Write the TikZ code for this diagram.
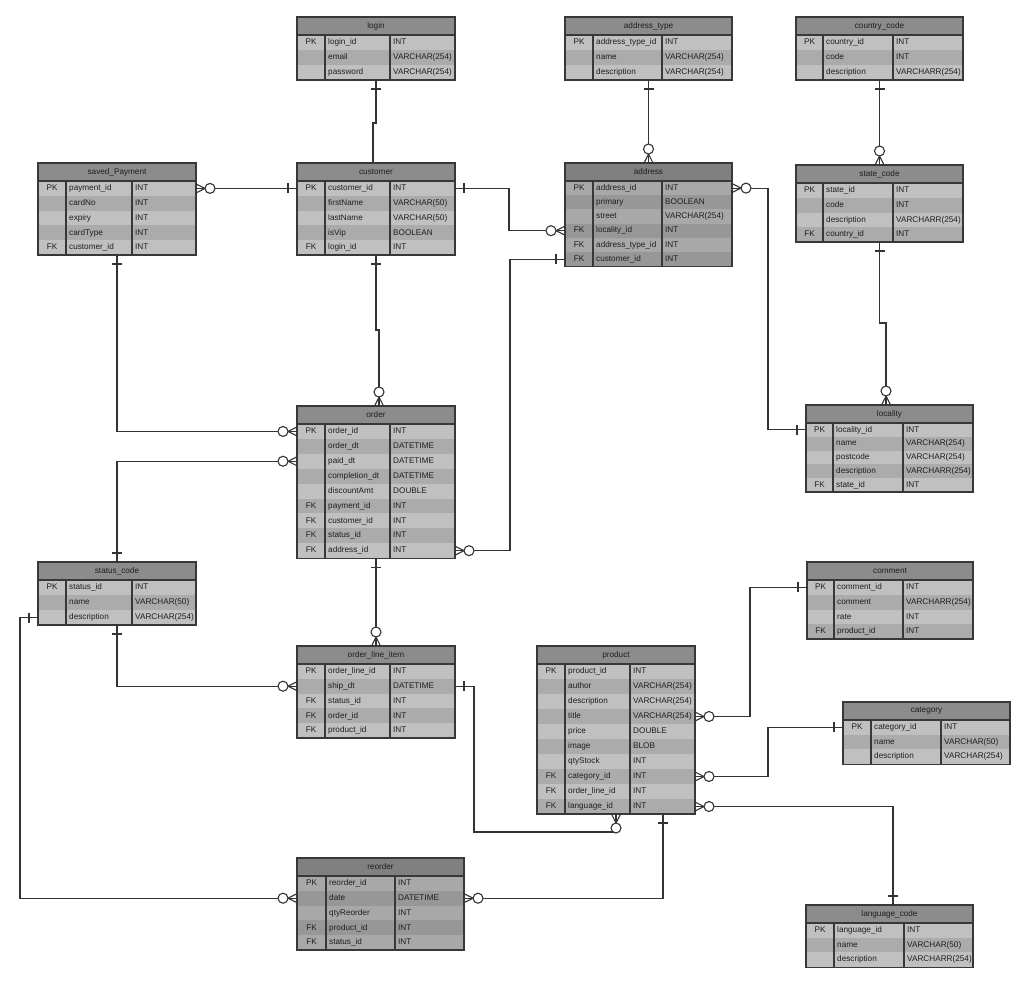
\documentclass[tikz,border=0pt]{standalone}
\usepackage{fontspec}
\setmainfont{Liberation Sans}
\usetikzlibrary{calc}
\definecolor{hdrN}{HTML}{8C8C8C}
\definecolor{rowAN}{HTML}{C0C0C0}
\definecolor{rowBN}{HTML}{ABABAB}
\definecolor{hdrD}{HTML}{808080}
\definecolor{rowAD}{HTML}{A8A8A8}
\definecolor{rowBD}{HTML}{979797}
\definecolor{bordC}{HTML}{383838}
\definecolor{lineC}{HTML}{333333}
\definecolor{txtC}{HTML}{1E1E1E}
\colorlet{hdr}{hdrN}\colorlet{rowA}{rowAN}\colorlet{rowB}{rowBN}
\tikzset{
  conn/.style={draw=lineC, line width=1.1pt},
  markline/.style={draw=lineC, line width=1.1pt},
  tblborder/.style={draw=bordC, line width=1.2pt},
  cell/.style={inner sep=0pt, text height=6.2pt, text depth=1.8pt, font=\fontsize{8.2}{9}\selectfont, text=txtC},
  hdrbox/.style={fill=hdr, draw=none, inner sep=0pt, outer sep=0pt, rectangle, font=\fontsize{8.2}{9}\selectfont, text=txtC},
  rowbox/.style={draw=none, inner sep=0pt, outer sep=0pt, rectangle},
  pics/one/.style={code={\draw[markline] (9,-5)--(9,5);}},
  pics/zmany/.style={code={\draw[markline] (0,-4.5)--(9,0)--(0,4.5); \draw[markline, fill=white] (14,0) circle[radius=5];}}
}
\newcommand\ertable[9]{%
  \node[hdrbox, minimum width=#5pt, minimum height=18pt, anchor=north west] (#1) at (#3,#4) {#2};
  \foreach[count=\i] \ky/\nm/\ty in {#9}{%
    \pgfmathsetmacro\yy{#4+18+(\i-1)*#8}%
    \ifodd\i\relax\def\rc{rowA}\else\def\rc{rowB}\fi
    \node[rowbox, fill=\rc, minimum width=#5pt, minimum height=#8pt, anchor=north west] (#1-\i) at (#3,\yy) {};
    \node[cell] at ($(#1-\i.west)+(#6/2,0)$) {\ky};
    \node[cell, anchor=west] at ($(#1-\i.west)+(#6+3,0)$) {\nm};
    \node[cell, anchor=west] at ($(#1-\i.west)+(#6+#7+3,0)$) {\ty};
    \xdef\lastrow{\i}%
  }
  \draw[tblborder] (#1.north west) rectangle (#1-\lastrow.south east);
  \draw[tblborder] (#1.south west) -- (#1.south east);
  \draw[tblborder] ($(#1.south west)+(#6,0)$) -- ($(#1-\lastrow.south west)+(#6,0)$);
  \draw[tblborder] ($(#1.south west)+(#6+#7,0)$) -- ($(#1-\lastrow.south west)+(#6+#7,0)$);
}
\begin{document}
\begin{tikzpicture}[x=1pt,y=-1pt]
\fill[white] (0,0) rectangle (1024,988);
\useasboundingbox (0,0) rectangle (1024,988);

% ---------- tables ----------
\ertable{login}{login}{297}{17}{158}{28}{65}{15}{PK/login\_id/INT, {}/email/VARCHAR(254), {}/password/VARCHAR(254)}
\ertable{addrtype}{address\_type}{565}{17}{167}{28}{69}{15}{PK/address\_type\_id/INT, {}/name/VARCHAR(254), {}/description/VARCHAR(254)}
\ertable{country}{country\_code}{796}{17}{167}{27}{70}{15}{PK/country\_id/INT, {}/code/INT, {}/description/VARCHARR(254)}
\ertable{savedpay}{saved\_Payment}{38}{163}{158}{28}{66}{14.8}{PK/payment\_id/INT, {}/cardNo/INT, {}/expiry/INT, {}/cardType/INT, FK/customer\_id/INT}
\ertable{customer}{customer}{297}{163}{158}{28}{65}{14.8}{PK/customer\_id/INT, {}/firstName/VARCHAR(50), {}/lastName/VARCHAR(50), {}/isVip/BOOLEAN, FK/login\_id/INT}
\colorlet{hdr}{hdrD}\colorlet{rowA}{rowAD}\colorlet{rowB}{rowBD}
\ertable{address}{address}{565}{163}{167}{28}{69}{14.2}{PK/address\_id/INT, {}/primary/BOOLEAN, {}/street/VARCHAR(254), FK/locality\_id/INT, FK/address\_type\_id/INT, FK/customer\_id/INT}
\colorlet{hdr}{hdrN}\colorlet{rowA}{rowAN}\colorlet{rowB}{rowBN}
\ertable{state}{state\_code}{796}{165}{167}{27}{70}{14.75}{PK/state\_id/INT, {}/code/INT, {}/description/VARCHARR(254), FK/country\_id/INT}
\ertable{locality}{locality}{806}{405}{167}{27}{70}{13.8}{PK/locality\_id/INT, {}/name/VARCHAR(254), {}/postcode/VARCHAR(254), {}/description/VARCHARR(254), FK/state\_id/INT}
\ertable{order}{order}{297}{406}{158}{28}{65}{14.9}{PK/order\_id/INT, {}/order\_dt/DATETIME, {}/paid\_dt/DATETIME, {}/completion\_dt/DATETIME, {}/discountAmt/DOUBLE, FK/payment\_id/INT, FK/customer\_id/INT, FK/status\_id/INT, FK/address\_id/INT}
\ertable{status}{status\_code}{38}{562}{158}{28}{66}{15}{PK/status\_id/INT, {}/name/VARCHAR(50), {}/description/VARCHAR(254)}
\ertable{orderline}{order\_line\_item}{297}{646}{158}{28}{65}{14.8}{PK/order\_line\_id/INT, {}/ship\_dt/DATETIME, FK/status\_id/INT, FK/order\_id/INT, FK/product\_id/INT}
\ertable{product}{product}{537}{646}{158}{28}{65}{15}{PK/product\_id/INT, {}/author/VARCHAR(254), {}/description/VARCHAR(254), {}/title/VARCHAR(254), {}/price/DOUBLE, {}/image/BLOB, {}/qtyStock/INT, FK/category\_id/INT, FK/order\_line\_id/INT, FK/language\_id/INT}
\ertable{comment}{comment}{807}{562}{166}{27}{69}{14.75}{PK/comment\_id/INT, {}/comment/VARCHARR(254), {}/rate/INT, FK/product\_id/INT}
\ertable{category}{category}{843}{702}{167}{28}{70}{14.7}{PK/category\_id/INT, {}/name/VARCHAR(50), {}/description/VARCHAR(254)}
\colorlet{hdr}{hdrD}\colorlet{rowA}{rowAD}\colorlet{rowB}{rowBD}
\ertable{reorder}{reorder}{297}{858}{167}{29}{69}{14.8}{PK/reorder\_id/INT, {}/date/DATETIME, {}/qtyReorder/INT, FK/product\_id/INT, FK/status\_id/INT}
\colorlet{hdr}{hdrN}\colorlet{rowA}{rowAN}\colorlet{rowB}{rowBN}
\ertable{language}{language\_code}{806}{905}{167}{28}{70}{14.7}{PK/language\_id/INT, {}/name/VARCHAR(50), {}/description/VARCHARR(254)}

% ---------- connectors ----------
\draw[conn] (login-3.south) -- ++(0,43) -| ([xshift=-3pt]customer.north);
\draw[conn] (savedpay-1.east) -- (customer-1.west);
\draw[conn] (customer-1.east) -- ++(54,0) |- (address-4.west);
\draw[conn] (addrtype-3.south) -- (address.north);
\draw[conn] (country-3.south) -- (state.north);
\draw[conn] (state-4.south) -- ++(0,81) -| ([xshift=-3.5pt]locality.north);
\draw[conn] (address-1.east) -- ++(36,0) |- (locality-1.west);
\draw[conn] (customer-5.south) -- ++(0,75) -| ([xshift=3pt]order.north);
\draw[conn] (savedpay-5.south) |- (order-1.west);
\draw[conn] (status.north) |- (order-3.west);
\draw[conn] (order-9.east) -- ++(55,0) |- (address-6.west);
\draw[conn] (order-9.south) -- (orderline.north);
\draw[conn] (status-3.south) |- (orderline-2.west);
\draw[conn] (status-3.west) -- ++(-18,0) |- (reorder-2.west);
\draw[conn] (orderline-2.east) -- ++(19,0) |- ([yshift=-18pt]product-10.south) -- (product-10.south);
\draw[conn] ([xshift=47pt]product-10.south) |- (reorder-2.east);
\draw[conn] (product-4.east) -- ++(55,0) |- (comment-1.west);
\draw[conn] (product-8.east) -- ++(73,0) |- (category-1.west);
\draw[conn] (product-10.east) -| ([xshift=3.5pt]language.north);

% ---------- cardinality marks ----------
\pic[rotate=-90] at (login-3.south) {one};
\pic at (savedpay-1.east) {zmany};
\pic[rotate=180] at (customer-1.west) {one};
\pic at (customer-1.east) {one};
\pic[rotate=180] at (address-4.west) {zmany};
\pic[rotate=-90] at (addrtype-3.south) {one};
\pic[rotate=90] at (address.north) {zmany};
\pic[rotate=-90] at (country-3.south) {one};
\pic[rotate=90] at (state.north) {zmany};
\pic[rotate=-90] at (state-4.south) {one};
\pic[rotate=90] at ([xshift=-3.5pt]locality.north) {zmany};
\pic at (address-1.east) {zmany};
\pic[rotate=180] at (locality-1.west) {one};
\pic[rotate=-90] at (customer-5.south) {one};
\pic[rotate=90] at ([xshift=3pt]order.north) {zmany};
\pic[rotate=-90] at (savedpay-5.south) {one};
\pic[rotate=180] at (order-1.west) {zmany};
\pic[rotate=90] at (status.north) {one};
\pic[rotate=180] at (order-3.west) {zmany};
\pic at (order-9.east) {zmany};
\pic[rotate=180] at (address-6.west) {one};
\pic[rotate=-90] at (order-9.south) {one};
\pic[rotate=90] at (orderline.north) {zmany};
\pic[rotate=-90] at (status-3.south) {one};
\pic[rotate=180] at (orderline-2.west) {zmany};
\pic[rotate=180] at (status-3.west) {one};
\pic[rotate=180] at (reorder-2.west) {zmany};
\pic at (orderline-2.east) {one};
\pic[rotate=-90] at (product-10.south) {zmany};
\pic[rotate=-90] at ([xshift=47pt]product-10.south) {one};
\pic at (reorder-2.east) {zmany};
\pic at (product-4.east) {zmany};
\pic[rotate=180] at (comment-1.west) {one};
\pic at (product-8.east) {zmany};
\pic[rotate=180] at (category-1.west) {one};
\pic at (product-10.east) {zmany};
\pic[rotate=90] at ([xshift=3.5pt]language.north) {one};
\end{tikzpicture}
\end{document}
